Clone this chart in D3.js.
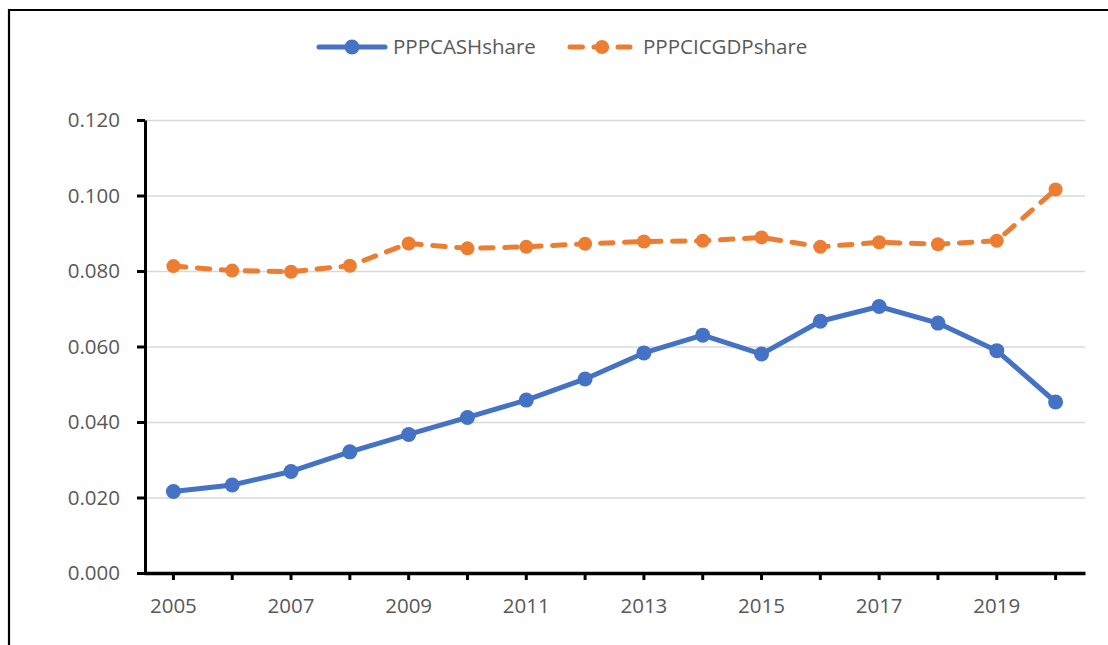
<!DOCTYPE html>
<html>
<head>
<meta charset="utf-8">
<script src="https://d3js.org/d3.v7.min.js"></script>
<style>
  body { margin: 0; background: #fff; }
  svg text { font-family: "Open Sans", sans-serif; fill: #595959; }
</style>
</head>
<body>
<div id="chart"></div>
<script>
// data
var years = [2005, 2006, 2007, 2008, 2009, 2010, 2011, 2012, 2013, 2014, 2015, 2016, 2017, 2018, 2019, 2020]
var cashShare = [0.0216, 0.0233, 0.0269, 0.0321, 0.0367, 0.0412, 0.0458, 0.0514, 0.0583, 0.0630, 0.0580, 0.0667, 0.0706, 0.0662, 0.0589, 0.0453]
var icgdpShare = [0.0813, 0.0801, 0.0798, 0.0814, 0.0873, 0.0860, 0.0864, 0.0872, 0.0878, 0.0880, 0.0889, 0.0864, 0.0876, 0.0871, 0.0880, 0.1016]
var yTicks = [0, 0.02, 0.04, 0.06, 0.08, 0.10, 0.12]
var xLabels = [2005, 2007, 2009, 2011, 2013, 2015, 2017, 2019]
var seriesNames = ["PPPCASHshare", "PPPCICGDPshare"]

var width = 1108, height = 645
var margin = { top: 120, right: 23, bottom: 72, left: 144 }

var svg = d3.select("#chart")
  .append("svg")
  .attr("width", width)
  .attr("height", height)

// chart frame (top and left edges show)
svg.append("path")
  .attr("d", `M9,${height} V10 H${width}`)
  .attr("fill", "none")
  .attr("stroke", "black")
  .attr("stroke-width", 2.2)

var xScale = d3.scaleBand()
  .domain(years)
  .range([margin.left, width - margin.right])
  .padding(0)

var xPos = d => xScale(d) + xScale.bandwidth() / 2

var yScale = d3.scaleLinear()
  .domain([0, 0.12])
  .range([height - margin.bottom, margin.top])

// grid
svg.append("g")
  .attr("class", "grid")
  .attr("transform", `translate(${margin.left},0)`)
  .call(d3.axisLeft(yScale)
    .tickValues(yTicks.slice(1))
    .tickSize(-(width - margin.right - margin.left))
    .tickFormat(""))
  .call(g => g.select(".domain").remove())
  .selectAll("line")
  .attr("stroke", "#d9d9d9")
  .attr("stroke-width", 1.5)

// Y axis
svg.append("g")
  .attr("class", "y-axis")
  .attr("transform", `translate(${margin.left + 1},0)`)
  .call(d3.axisLeft(yScale)
    .tickValues(yTicks)
    .tickSize(8)
    .tickSizeOuter(0)
    .tickPadding(17)
    .tickFormat(d3.format(".3f")))
  .call(g => g.select(".domain").attr("stroke-width", 3))
  .call(g => g.selectAll(".tick line").attr("stroke-width", 3))
  .selectAll("text")
  .style("font-size", "20.5px")
  .style("fill", "#595959")

// X axis ticks at every year
svg.append("g")
  .attr("class", "x-axis")
  .attr("transform", `translate(0,${height - margin.bottom})`)
  .call(d3.axisBottom(xScale)
    .tickSize(7)
    .tickSizeOuter(0)
    .tickFormat(""))
  .call(g => g.select(".domain").attr("stroke-width", 3.5))
  .call(g => g.selectAll(".tick line").attr("stroke-width", 3))

// X labels on odd years
svg.append("g")
  .attr("class", "x-labels")
  .selectAll("text")
  .data(xLabels)
  .enter()
  .append("text")
  .attr("x", d => xPos(d))
  .attr("y", height - margin.bottom + 40)
  .attr("text-anchor", "middle")
  .style("font-size", "20.5px")
  .text(d => d)

var line = d3.line()
  .x((d, i) => xPos(years[i]))
  .y(d => yScale(d))

// orange dashed series
svg.append("path")
  .datum(icgdpShare)
  .attr("class", "line icgdp")
  .attr("d", line)
  .attr("fill", "none")
  .attr("stroke", "#ed7d31")
  .attr("stroke-width", 5)
  .attr("stroke-linecap", "round")
  .attr("stroke-dasharray", "12.5,11.5")

svg.append("g")
  .selectAll("circle")
  .data(icgdpShare)
  .enter()
  .append("circle")
  .attr("cx", (d, i) => xPos(years[i]))
  .attr("cy", d => yScale(d))
  .attr("r", 7)
  .attr("fill", "#ed7d31")

// blue solid series
svg.append("path")
  .datum(cashShare)
  .attr("class", "line cash")
  .attr("d", line)
  .attr("fill", "none")
  .attr("stroke", "#4472c4")
  .attr("stroke-width", 5)
  .attr("stroke-linejoin", "round")

svg.append("g")
  .selectAll("circle")
  .data(cashShare)
  .enter()
  .append("circle")
  .attr("cx", (d, i) => xPos(years[i]))
  .attr("cy", d => yScale(d))
  .attr("r", 7.5)
  .attr("fill", "#4472c4")

// legend
var legend = svg.append("g").attr("class", "legend")

legend.append("line")
  .attr("x1", 319).attr("x2", 385)
  .attr("y1", 47).attr("y2", 47)
  .attr("stroke", "#4472c4")
  .attr("stroke-width", 5)
  .attr("stroke-linecap", "round")
legend.append("circle")
  .attr("cx", 352).attr("cy", 47).attr("r", 7.5)
  .attr("fill", "#4472c4")
legend.append("text")
  .attr("x", 393).attr("y", 54)
  .style("font-size", "20.5px")
  .text(seriesNames[0])

legend.append("line")
  .attr("x1", 570).attr("x2", 630)
  .attr("y1", 47).attr("y2", 47)
  .attr("stroke", "#ed7d31")
  .attr("stroke-width", 5)
  .attr("stroke-linecap", "round")
  .attr("stroke-dasharray", "12.5,11.5")
legend.append("circle")
  .attr("cx", 602).attr("cy", 47).attr("r", 7)
  .attr("fill", "#ed7d31")
legend.append("text")
  .attr("x", 643).attr("y", 54)
  .style("font-size", "20.5px")
  .text(seriesNames[1])
</script>
</body>
</html>
